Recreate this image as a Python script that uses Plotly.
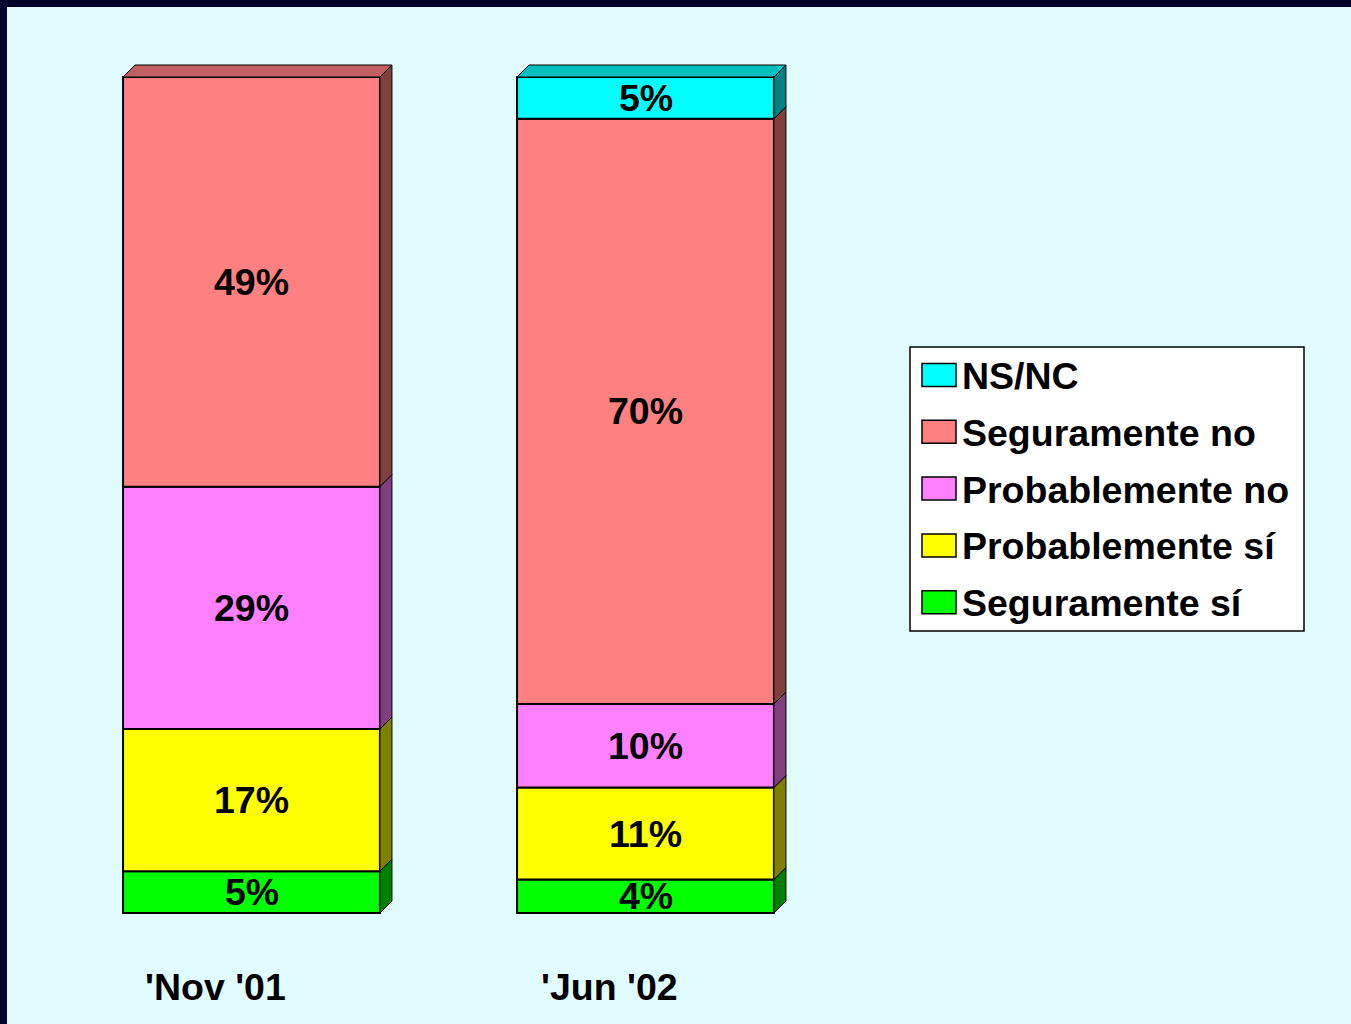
import plotly.graph_objects as go

# ---- data ----
categories = ["'Nov '01", "'Jun '02"]
series_names = ["Seguramente sí", "Probablemente sí", "Probablemente no", "Seguramente no", "NS/NC"]
seguramente_si = [5, 4]
probablemente_si = [17, 11]
probablemente_no = [29, 10]
seguramente_no = [49, 70]
ns_nc = [None, 5]

series_values = [seguramente_si, probablemente_si, probablemente_no, seguramente_no, ns_nc]
front_colors = ["#00FF00", "#FFFF00", "#FF80FF", "#FF8080", "#00FFFF"]
side_colors = ["#008000", "#808000", "#804080", "#804040", "#008080"]
top_colors = ["#00C000", "#C0C000", "#C060C0", "#C06060", "#00C0C0"]

W = 0.652          # bar width (x units)
DX = 12 / 394      # 3D depth in x units
DY = 12 / 8.36     # 3D depth in y units
FONT = "Liberation Sans, Arial, sans-serif"
FS = 37.5

xs = list(range(len(categories)))
fig = go.Figure()

bases = [0] * len(categories)
tops = [None] * len(categories)
annotations = []
for name, vals, fc, sc, tc in zip(series_names, series_values, front_colors, side_colors, top_colors):
    b_list = [bases[i] for i in range(len(vals))]
    fig.add_trace(go.Bar(
        x=xs, y=vals, base=b_list, width=W, name=name,
        marker=dict(color=fc, line=dict(color="black", width=2)),
        showlegend=False, hoverinfo="skip"))
    for i, v in enumerate(vals):
        if not v:
            continue
        b = bases[i]
        x1 = xs[i] + W / 2
        fig.add_trace(go.Scatter(
            x=[x1, x1 + DX, x1 + DX, x1, x1],
            y=[b, b + DY, b + v + DY, b + v, b],
            fill="toself", fillcolor=sc, mode="lines",
            line=dict(color="black", width=1), showlegend=False, hoverinfo="skip"))
        tops[i] = (b + v, tc)
        annotations.append(dict(x=xs[i], y=b + v / 2, xref="x", yref="y", text=f"{v}%",
                                yanchor="middle", showarrow=False,
                                font=dict(family=FONT, size=FS, color="black", weight="bold")))
        bases[i] = b + v

# top faces
for i, t in enumerate(tops):
    top, tc = t
    x0 = xs[i] - W / 2
    x1 = xs[i] + W / 2
    fig.add_trace(go.Scatter(
        x=[x0, x0 + DX, x1 + DX, x1, x0],
        y=[top, top + DY, top + DY, top, top],
        fill="toself", fillcolor=tc, mode="lines",
        line=dict(color="black", width=1), showlegend=False, hoverinfo="skip"))

# category labels
for i, c in enumerate(categories):
    annotations.append(dict(x=xs[i], y=1 - 987 / 1024, xref="x", yref="paper", text=c,
                            xshift=-36, yanchor="middle", showarrow=False,
                            font=dict(family=FONT, size=FS, color="black", weight="bold")))

FW, FH = 1351, 1024
shapes = [
    dict(type="rect", xref="paper", yref="paper", x0=7 / FW, x1=1, y0=0, y1=1 - 7 / FH,
         fillcolor="#E1FCFF", line=dict(width=0), layer="below"),
    dict(type="rect", xref="paper", yref="paper", x0=910 / FW, x1=1304 / FW,
         y0=1 - 631 / FH, y1=1 - 347 / FH, fillcolor="white",
         line=dict(color="black", width=1.5), layer="below"),
]

# custom legend (top to bottom: reversed series order)
legend_order = list(range(len(series_names)))[::-1]
for row, k in enumerate(legend_order):
    cy = 375 + row * 56.8
    shapes.append(dict(type="rect", xref="paper", yref="paper",
                       x0=922 / FW, x1=956 / FW, y0=1 - (cy + 11.5) / FH, y1=1 - (cy - 11.5) / FH,
                       fillcolor=front_colors[k], line=dict(color="black", width=1.5)))
    annotations.append(dict(x=960 / FW, y=1 - (cy + 1) / FH, xref="paper", yref="paper",
                            xanchor="left", yanchor="middle", text=series_names[k], showarrow=False,
                            font=dict(family=FONT, size=FS, color="black", weight="bold")))

fig.update_layout(
    width=FW, height=FH,
    margin=dict(l=0, r=0, t=0, b=0),
    paper_bgcolor="#02002A", plot_bgcolor="rgba(0,0,0,0)",
    barmode="overlay", showlegend=False,
    xaxis=dict(range=[-251.5 / 394, (FW - 251.5) / 394], visible=False, fixedrange=True),
    yaxis=dict(range=[-(FH - 913) / 8.36, 100 + 77 / 8.36], visible=False, fixedrange=True),
    shapes=shapes, annotations=annotations,
)

fig.write_html("out.html", config={"displayModeBar": False},
               post_script="document.body.style.margin='0';document.body.style.overflow='hidden';")
